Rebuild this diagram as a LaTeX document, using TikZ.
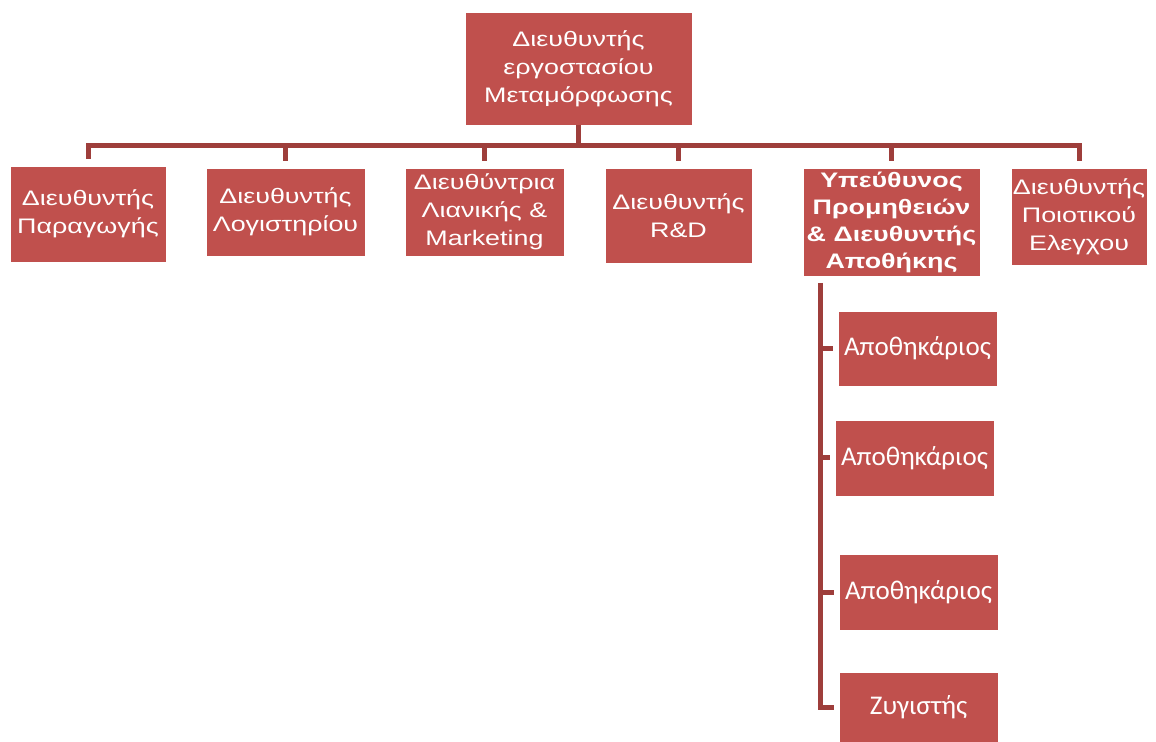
\documentclass[tikz,border=0pt]{standalone}
\usepackage{fontspec}
\setmainfont{Liberation Sans}[FakeStretch=1.28]
\newfontfamily\childfont{Carlito}
\usetikzlibrary{positioning}
\definecolor{boxred}{HTML}{C0504D}
\definecolor{linkred}{HTML}{9E3E3B}
\begin{document}
\begin{tikzpicture}[x=0.5pt, y=-0.5pt,
	box/.style={fill=boxred, draw=white, line width=0.4pt, text=white, align=center,
		inner sep=1pt, font=\fontsize{10.5}{13.9}\selectfont},
	child/.style={box, font=\childfont\fontsize{13.5}{16}\selectfont,
		minimum width=79.5pt, minimum height=38pt},
	link/.style={draw=linkred, line width=2.5pt},
	]
	\useasboundingbox (0,0) rectangle (1156,742);
	
	% Head
	\node[box, minimum width=113.5pt, minimum height=56.5pt] (dir) at (578.5,68.5)
	{Διευθυντής\\εργοστασίου\\Μεταμόρφωσης};
	
	% Managers
	\node[box, minimum width=78pt,   minimum height=48pt]   (prod) at (88,214)    {Διευθυντής\\Παραγωγής};
	\node[box, minimum width=79.5pt, minimum height=44pt]   (acc)  at (285.5,212) {Διευθυντής\\Λογιστηρίου};
	\node[box, minimum width=79.5pt, minimum height=44pt]   (mkt)  at (484.5,212) {Διευθύντρια\\Λιανικής \&\\Marketing};
	\node[box, minimum width=73.5pt, minimum height=47.5pt] (rnd)  at (678.5,215.5) {Διευθυντής\\R\&D};
	\node[box, minimum width=88.5pt, minimum height=54pt, font=\bfseries\fontsize{10.5}{13.5}\selectfont]
	(sup) at (891.5,222) {Υπεύθυνος\\Προμηθειών\\\& Διευθυντής\\Αποθήκης};
	\node[box, minimum width=67pt,   minimum height=48.5pt] (qc)   at (1079,216.5) {Διευθυντής\\Ποιοτικού\\Ελεγχου};
	
	% Warehouse staff
	\node[child, minimum height=37.5pt] (st1) at (917.5,348.5) {Αποθηκάριος};
	\node[child] (st2) at (914.5,458) {Αποθηκάριος};
	\node[child] (st3) at (918.5,592) {Αποθηκάριος};
	\node[child, minimum height=35pt] (wei) at (918.5,707) {Ζυγιστής};
	
	% Connectors
	\coordinate (bus) at (578,146);
	\draw[link] (dir.south) -- (dir.south |- bus);
	\foreach \n in {prod,acc,mkt,rnd,sup,qc}
	\draw[link, shorten >=3.5pt] (dir.south |- bus) -| (\n.north);
	
	\coordinate (spine) at (820,283);
	\draw[link, shorten >=2.5pt] (spine) |- (wei.west);
	\foreach \n in {st1,st2,st3}
	\draw[link, shorten >=2.5pt] (spine |- \n.west) -- (\n.west);
\end{tikzpicture}
\end{document}
